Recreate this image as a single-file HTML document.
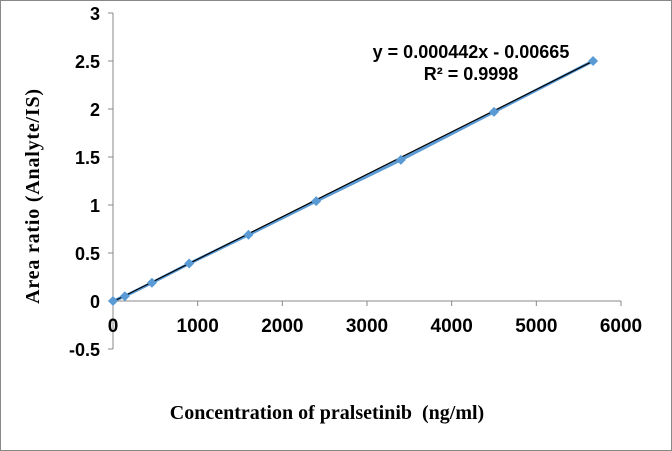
<!DOCTYPE html>
<html><head><meta charset="utf-8"><style>
body{margin:0;background:#fff}
svg{display:block}
</style></head><body>
<svg width="672" height="451" xmlns="http://www.w3.org/2000/svg">
<rect x="0.5" y="0.5" width="671" height="450" fill="#fff" stroke="#888"/>
<g id="axes"></g>
<g id="marks"></g>
<text x="471" y="58" font-family="Liberation Sans, sans-serif" font-weight="bold" font-size="18" text-anchor="middle">y = 0.000442x - 0.00665</text>
<text x="471" y="80" font-family="Liberation Sans, sans-serif" font-weight="bold" font-size="18" text-anchor="middle">R² = 0.9998</text>
<text x="327" y="419" font-family="Liberation Serif, serif" font-weight="bold" font-size="20" text-anchor="middle" xml:space="preserve">Concentration of pralsetinib  (ng/ml)</text>
<text transform="translate(39,196) rotate(-90)" font-family="Liberation Serif, serif" font-weight="bold" font-size="20" letter-spacing="0.8" text-anchor="middle">Area ratio (Analyte/IS)</text>
</svg>
<script>
const xVals=[0,140,460,900,1600,2400,3400,4500,5670];
const yVals=[0,0.05,0.19,0.39,0.69,1.04,1.47,1.97,2.50];
const xTicks=[0,1000,2000,3000,4000,5000,6000];
const yTicks=[-0.5,0,0.5,1,1.5,2,2.5,3];
const slope=0.000442, intercept=-0.00665;
const NS="http://www.w3.org/2000/svg";
const X=v=>113+v/6000*508;
const Y=v=>301-v*96;
const axes=document.getElementById('axes'), marks=document.getElementById('marks');
function mk(tag,attrs,parent){const e=document.createElementNS(NS,tag);for(const k in attrs)e.setAttribute(k,attrs[k]);parent.appendChild(e);return e;}
let e=mk('line',{x1:X(0),x2:X(0),y1:Y(3),y2:Y(-0.5),stroke:'#888'},axes);


e=mk('line',{x1:X(0),x2:X(6000),y1:Y(0),y2:Y(0),stroke:'#888'},axes);


yTicks.forEach(t=>{
 mk('line',{x1:X(0)-5,x2:X(0),y1:Y(t),y2:Y(t),stroke:'#888'},axes);
 const tx=mk('text',{x:X(0)-13,y:Y(t)+7,'text-anchor':'end','font-family':'Liberation Sans, sans-serif','font-weight':'bold','font-size':'18'},axes);
 tx.textContent=String(t);
 
 
});
xTicks.forEach(t=>{
 mk('line',{x1:X(t),x2:X(t),y1:Y(0),y2:Y(0)+5,stroke:'#888'},axes);
 const tx=mk('text',{x:X(t),y:Y(0)+31,'text-anchor':'middle','font-family':'Liberation Sans, sans-serif','font-weight':'bold','font-size':'19'},axes);
 tx.textContent=String(t);
 
 
});
const pts=xVals.map((x,i)=>X(x)+','+Y(yVals[i])).join(' ');
e=mk('polyline',{points:pts,fill:'none',stroke:'#5b9bd5','stroke-width':3},marks);


const xmax=xVals[xVals.length-1];
e=mk('line',{x1:X(0),y1:Y(intercept),x2:X(xmax),y2:Y(slope*xmax+intercept),stroke:'#000','stroke-width':1.2},marks);


xVals.forEach((x,i)=>{
 const cx=X(x),cy=Y(yVals[i]);
 const d=mk('polygon',{points:`${cx},${cy-5} ${cx+5},${cy} ${cx},${cy+5} ${cx-5},${cy}`,fill:'#5b9bd5'},marks);
 
 
});
</script>
</body></html>
